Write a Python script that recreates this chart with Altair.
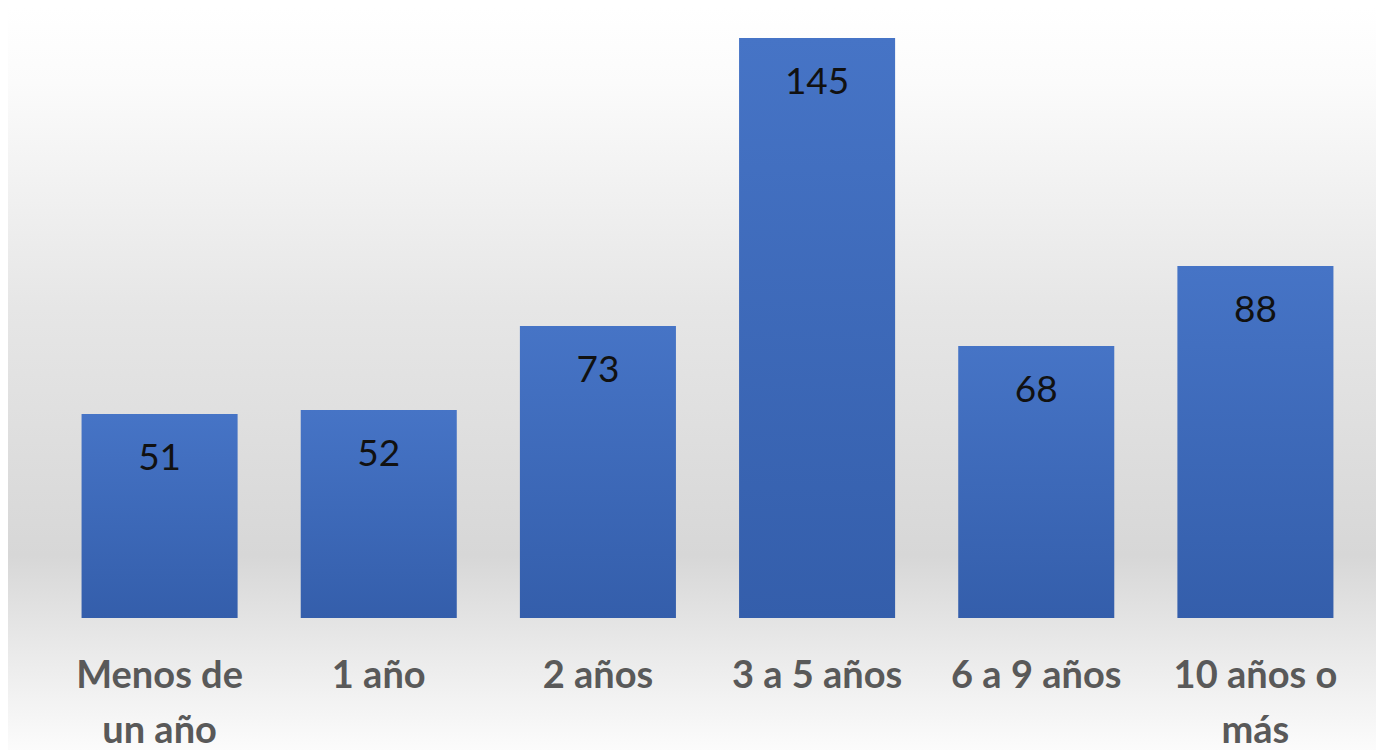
import altair as alt
import pandas as pd

categories = ["Menos de un año", "1 año", "2 años", "3 a 5 años", "6 a 9 años", "10 años o más"]
values = [51, 52, 73, 145, 68, 88]

df = pd.DataFrame({"cat": categories, "val": values})

label_expr = ("datum.value == 'Menos de un año' ? ['Menos de', 'un año'] : "
              "datum.value == '10 años o más' ? ['10 años o', 'más'] : datum.value")

W, H = 1315, 580

bg = alt.Chart(pd.DataFrame({"a": [0]})).mark_rect(
    fill=alt.Gradient(
        gradient="linear", x1=0, y1=0, x2=0, y2=1,
        stops=[
            alt.GradientStop(offset=0.0, color="#ffffff"),
            alt.GradientStop(offset=0.1, color="#fbfbfb"),
            alt.GradientStop(offset=0.4, color="#e6e6e6"),
            alt.GradientStop(offset=0.73, color="#d7d7d7"),
            alt.GradientStop(offset=0.86, color="#eaeaea"),
            alt.GradientStop(offset=1.0, color="#fdfdfd"),
        ],
    ),
    clip=False,
).encode(
    x=alt.value(-42), x2=alt.value(W + 11),
    y=alt.value(-30), y2=alt.value(H + 140),
)

base = alt.Chart(df)

x_enc = alt.X(
    "cat:N", sort=categories, title=None,
    scale=alt.Scale(paddingInner=0.288, paddingOuter=0.144),
    axis=alt.Axis(
        labelAngle=0, domain=False, ticks=False, grid=False, zindex=2,
        labelFont="Lato", labelFontSize=38, labelFontWeight="bold",
        labelColor="#595959", labelPadding=39, labelLineHeight=55,
        labelBaseline="top", labelExpr=label_expr, labelLimit=400,
    ),
)
y_enc = alt.Y("val:Q", scale=alt.Scale(domain=[0, 145], nice=False, zero=True), axis=None)

bars = base.mark_bar(
    fill=alt.Gradient(
        gradient="linear", x1=0, y1=0, x2=0, y2=1,
        stops=[
            alt.GradientStop(offset=0.0, color="#4674c6"),
            alt.GradientStop(offset=1.0, color="#345eab"),
        ],
    ),
).encode(x=x_enc, y=y_enc)

text = base.mark_text(
    font="Lato", fontSize=37, color="#111111", baseline="middle", dy=45,
).encode(x=alt.X("cat:N", sort=categories), y=y_enc, text="val:Q")

chart = alt.layer(bg, bars, text).properties(
    width=W, height=H,
    autosize=alt.AutoSizeParams(type="none"),
    padding={"left": 42, "top": 30, "right": 11, "bottom": 140},
).configure_view(stroke=None).configure(background="#ffffff")

chart.save("out.html", embed_options={"renderer": "svg", "actions": False})
